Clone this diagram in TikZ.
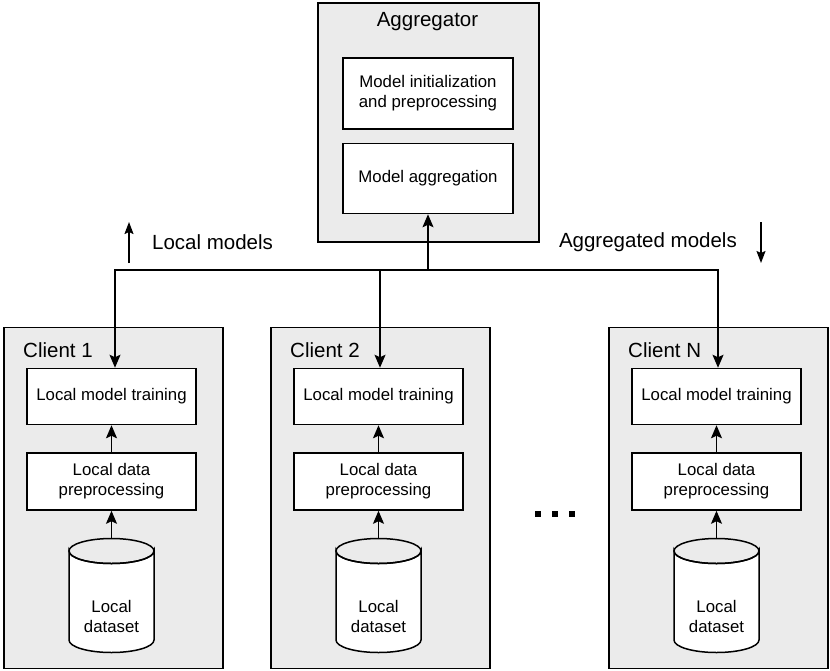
\documentclass[tikz,border=0pt]{standalone}
\usepackage{fontspec}
\setmainfont{Liberation Sans}
\usetikzlibrary{arrows.meta}
\definecolor{boxgray}{RGB}{235,235,235}
\tikzset{
  outerbox/.style={draw, line width=1.5pt, fill=boxgray, anchor=north west, inner sep=0pt},
  innerbox/.style={draw, line width=1.5pt, fill=white, align=center, inner sep=0pt,
    font=\fontsize{16.8}{20}\selectfont},
  biglabel/.style={font=\fontsize{20.5}{24}\selectfont, inner sep=0pt},
  smalltext/.style={font=\fontsize{16.8}{20}\selectfont, align=center, inner sep=0pt},
  conn/.style={line width=1.5pt, -{Stealth[length=13pt,width=11pt,inset=2.5pt]}},
  dirarrow/.style={line width=1.5pt, -{Stealth[length=12pt,width=9pt,inset=2pt]}},
  wire/.style={line width=1.5pt},
}
\begin{document}
\begin{tikzpicture}[x=1pt,y=-1pt]
\useasboundingbox (0,0) rectangle (830,670);

% Aggregator
\node[outerbox, minimum width=221pt, minimum height=239pt] (agg) at (317,2) {};
\node[biglabel] (agglab) at (427.5,22) {Aggregator};
\node[innerbox, minimum width=170pt, minimum height=71pt] (init) at (428,93.5) {Model initialization\\and preprocessing};
\node[innerbox, minimum width=170pt, minimum height=70pt] (aggm) at (428,178.5) {Model aggregation};

% Clients
\foreach \x/\n/\lab in {3/1/Client 1, 270/2/Client 2, 608/N/Client N}{
  \node[outerbox, minimum width=219pt, minimum height=341pt] (c\n) at (\x,326.5) {};
  \node[biglabel, anchor=west] (cl\n) at (\x+20,350) {\lab};
  \node[innerbox, minimum width=169pt, minimum height=56pt] (t\n) at (\x+108.5,396.5) {Local model training};
  \node[innerbox, minimum width=169pt, minimum height=57pt] (p\n) at (\x+108.5,481.5) {Local data\\preprocessing};
  \draw[wire, fill=white] (\x+66,551) -- (\x+66,640) arc[start angle=180, end angle=360, x radius=42.5, y radius=-12.5]
     -- (\x+151,551) arc[start angle=0, end angle=-180, x radius=42.5, y radius=-12.5] -- cycle;
  \draw[wire] (\x+108.5,551) ellipse[x radius=42.5, y radius=12.5];
  \coordinate (d\n) at (\x+108.5,538.5);
  \node[smalltext] (dl\n) at (\x+108.5,616) {Local\\dataset};
  \draw[conn] (d\n) -- (p\n.south);
  \draw[conn] (p\n.north) -- (t\n.south);
}

% Bus
\coordinate (bus) at (428,270);
\draw[conn] (bus) -- (aggm.south);
\draw[conn] (bus) -| ([xshift=3.5pt]t1.north);
\draw[conn] (bus) -| ([xshift=1.5pt]t2.north);
\draw[conn] (bus) -| ([xshift=1.5pt]tN.north);

% Direction labels
\coordinate (lmA) at (129,263);
\coordinate (lmB) at (129,222);
\draw[dirarrow] (lmA) -- (lmB);
\node[biglabel, anchor=west] (lm) at (152,242) {Local models};
\coordinate (amA) at (761,222);
\coordinate (amB) at (761,263);
\draw[dirarrow] (amA) -- (amB);
\node[biglabel, anchor=east] (am) at (737,242) {Aggregated models};

% Dots
\foreach \dx in {538,555,572}{
  \fill (\dx-3,511) rectangle (\dx+3,517);
}
\end{tikzpicture}
\end{document}
